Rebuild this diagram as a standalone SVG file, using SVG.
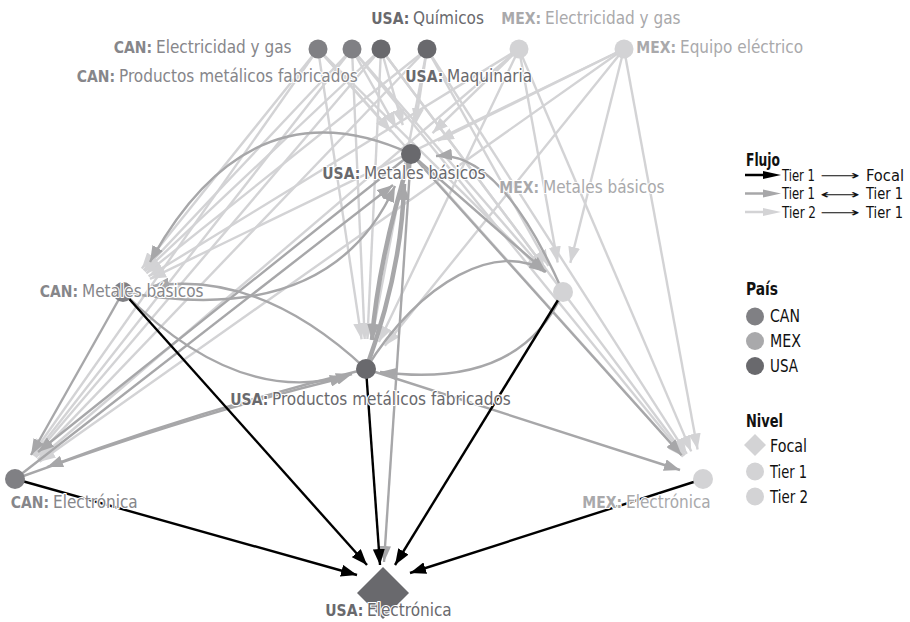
<svg xmlns="http://www.w3.org/2000/svg" width="910" height="622" viewBox="0 0 910 622">
<style>
text{font-family:"DejaVu Sans Condensed","DejaVu Sans","Liberation Sans",sans-serif;font-stretch:condensed;}
.lbl{font-size:17px;stroke:#fff;stroke-width:2.2px;paint-order:stroke;stroke-linejoin:round;}
.pre{font-size:15.5px;font-weight:bold;stroke:#fff;stroke-width:2.2px;paint-order:stroke;stroke-linejoin:round;}
.can{fill:#808084;} .usa{fill:#69696d;} .mex{fill:#a9a9ab;} .lt{fill:#d3d3d5;}
.lc{fill:#86868a;} .lu{fill:#69696d;} .lm{fill:#a9a9ab;}
.e2{fill:none;stroke:#d3d3d5;stroke-width:2.4;marker-end:url(#al);}
.e1{fill:none;stroke:#a7a7a9;stroke-width:2.4;marker-end:url(#am);}
.e1t{fill:none;stroke:#a7a7a9;stroke-width:4.5;marker-end:url(#am);}
.ef{fill:none;stroke:#000;stroke-width:2.4;marker-end:url(#ab);}
.leg{font-size:17px;fill:#111;}
.legr{font-size:15.5px;fill:#111;}
.legh{font-size:17px;fill:#111;font-weight:bold;}
.arr{font-family:"DejaVu Sans",sans-serif;font-stretch:normal;font-size:13px;fill:#111;}
</style>
<defs>
<marker id="ab" markerUnits="userSpaceOnUse" markerWidth="17" markerHeight="12" refX="16" refY="6" orient="auto"><path d="M0,0 L16,6 L0,12 z" fill="#000"/></marker>
<marker id="am" markerUnits="userSpaceOnUse" markerWidth="17" markerHeight="12" refX="16" refY="6" orient="auto"><path d="M0,0 L16,6 L0,12 z" fill="#a7a7a9"/></marker>
<marker id="al" markerUnits="userSpaceOnUse" markerWidth="17" markerHeight="12" refX="16" refY="6" orient="auto"><path d="M0,0 L16,6 L0,12 z" fill="#d3d3d5"/></marker>
</defs>
<rect width="910" height="622" fill="#fff"/>
<g id="connectors">
<path class="e2" d="M318,49 L141.8,268.6"/>
<path class="e2" d="M352,49 L143.6,270.2"/>
<path class="e2" d="M381,49 L144.8,271.4"/>
<path class="e2" d="M427,49 L146.4,273.3"/>
<path class="e2" d="M519,49 L148.6,276.3"/>
<path class="e2" d="M624,49 L150,278.9"/>
<path class="e2" d="M318,49 L32.3,454.5"/>
<path class="e2" d="M352,49 L33.5,455.4"/>
<path class="e2" d="M381,49 L34.4,456.2"/>
<path class="e2" d="M427,49 L35.8,457.3"/>
<path class="e2" d="M519,49 L37.8,459.5"/>
<path class="e2" d="M624,49 L39.5,461.7"/>
<path class="e2" d="M318,49 L391.1,131.6"/>
<path class="e2" d="M352,49 L396.3,127.8"/>
<path class="e2" d="M381,49 L402.8,125.1"/>
<path class="e2" d="M427,49 L415.5,124.3"/>
<path class="e2" d="M519,49 L432.5,133.1"/>
<path class="e2" d="M624,49 L437.9,140.7"/>
<path class="e2" d="M318,49 L361.6,339.3"/>
<path class="e2" d="M352,49 L364.7,339"/>
<path class="e2" d="M381,49 L367.4,339"/>
<path class="e2" d="M427,49 L371.6,339.5"/>
<path class="e2" d="M519,49 L378.9,341.9"/>
<path class="e2" d="M624,49 L384.8,345.7"/>
<path class="e2" d="M318,49 L541.7,270.9"/>
<path class="e2" d="M352,49 L543.3,269.3"/>
<path class="e2" d="M381,49 L545,268"/>
<path class="e2" d="M427,49 L548.4,265.8"/>
<path class="e2" d="M519,49 L557.7,262.5"/>
<path class="e2" d="M624,49 L570.3,262.9"/>
<path class="e2" d="M318,49 L683,456.6"/>
<path class="e2" d="M352,49 L684,455.8"/>
<path class="e2" d="M381,49 L685,455"/>
<path class="e2" d="M427,49 L686.8,453.8"/>
<path class="e2" d="M519,49 L691.2,451.4"/>
<path class="e2" d="M624,49 L697.6,449.5"/>
<path class="e1" d="M411,154 L681.6,455.2"/>
<path class="e1" d="M366,369 L680,470"/>
<path class="e1" d="M366,369 Q200,410 47,467"/>
<path class="e1" d="M15,479 Q190,415 346,377"/>
<path class="e1" d="M123,292 L31,455"/>
<path class="e1" d="M411,154 L38,452"/>
<path class="e1" d="M15,479 L393,185"/>
<path class="e1t" d="M411,154 Q378,260 372,340"/>
<path class="e1t" d="M366,369 Q402,270 404,184"/>
<path class="e1" d="M411,154 Q250,80 150,262"/>
<path class="e1" d="M123,292 Q330,330 395,186"/>
<path class="e1" d="M563,292 Q500,150 436,156"/>
<path class="e1" d="M411,154 L546,272"/>
<path class="e1" d="M366,369 C420,280 500,240 545,272"/>
<path class="e1" d="M563,292 Q520,390 380,372"/>
<path class="e1" d="M123,292 Q240,410 352,374"/>
<path class="e1" d="M366,369 Q260,270 153,286"/>
<path class="e1" d="M411,154 L384,562"/>
<path class="ef" d="M15,479 L357,575"/>
<path class="ef" d="M123,292 L367,565"/>
<path class="ef" d="M366,369 L380,565"/>
<path class="ef" d="M563,292 L395,565"/>
<path class="ef" d="M703,479 L410,573"/>
</g>
<g id="n-can-elec"><circle class="can" cx="318" cy="49" r="9.5"/><text class="pre lc" x="113.7" y="53">CAN:</text><text class="lbl lc" x="156" y="53">Electricidad y gas</text></g>
<g id="n-can-prod"><circle class="can" cx="352" cy="49" r="9.5"/><text class="pre lc" x="76.7" y="82">CAN:</text><text class="lbl lc" x="119" y="82">Productos metálicos fabricados</text></g>
<g id="n-usa-quim"><circle class="usa" cx="381" cy="49" r="9.5"/><text class="pre lu" x="371.3" y="24">USA:</text><text class="lbl lu" x="413" y="24">Químicos</text></g>
<g id="n-usa-maq"><circle class="usa" cx="427" cy="49" r="9.5"/><text class="pre lu" x="405.3" y="82">USA:</text><text class="lbl lu" x="447" y="82">Maquinaria</text></g>
<g id="n-mex-elec"><circle class="lt" cx="519" cy="49" r="9.5"/><text class="pre lm" x="501.3" y="24">MEX:</text><text class="lbl lm" x="545" y="24">Electricidad y gas</text></g>
<g id="n-mex-equipo"><circle class="lt" cx="624" cy="49" r="9.5"/><text class="pre lm" x="636.3" y="53">MEX:</text><text class="lbl lm" x="680" y="53">Equipo eléctrico</text></g>
<g id="n-usa-metales"><circle class="usa" cx="411" cy="154" r="10"/><text class="pre lu" x="322.3" y="179">USA:</text><text class="lbl lu" x="364" y="179">Metales básicos</text></g>
<g id="n-mex-metales"><circle class="lt" cx="563" cy="292" r="10"/><text class="pre lm" x="499.3" y="193">MEX:</text><text class="lbl lm" x="543" y="193">Metales básicos</text></g>
<g id="n-can-metales"><circle class="can" cx="123" cy="292" r="10"/><text class="pre lc" x="39.7" y="297">CAN:</text><text class="lbl lc" x="82" y="297">Metales básicos</text></g>
<g id="n-usa-prod"><circle class="usa" cx="366" cy="369" r="10"/><text class="pre lu" x="230.3" y="405">USA:</text><text class="lbl lu" x="272" y="405">Productos metálicos fabricados</text></g>
<g id="n-can-electronica"><circle class="can" cx="15" cy="479" r="10"/><text class="pre lc" x="10.7" y="508">CAN:</text><text class="lbl lc" x="53" y="508">Electrónica</text></g>
<g id="n-mex-electronica"><circle class="lt" cx="703" cy="479" r="10"/><text class="pre lm" x="582.3" y="508">MEX:</text><text class="lbl lm" x="626" y="508">Electrónica</text></g>
<g id="n-usa-electronica"><path class="usa" d="M383,567 L409,593 L383,619 L357,593 z"/><text class="pre lu" x="325.3" y="616">USA:</text><text class="lbl lu" x="367" y="616">Electrónica</text></g>
<g id="legend">
<text class="legh" x="746" y="166" textLength="34" lengthAdjust="spacingAndGlyphs">Flujo</text>
<line x1="745" y1="175" x2="766" y2="175" stroke="#000" stroke-width="2.5"/><path d="M763,171 L781,175 L763,179 z" fill="#000"/>
<text class="legr" x="782" y="180.5" textLength="33" lengthAdjust="spacingAndGlyphs">Tier 1</text>
<text class="arr" x="820" y="180" textLength="40" lengthAdjust="spacingAndGlyphs">⟶</text>
<text class="legr" x="866" y="180.5" textLength="38" lengthAdjust="spacingAndGlyphs">Focal</text>
<line x1="745" y1="193.5" x2="766" y2="193.5" stroke="#a7a7a9" stroke-width="2.5"/><path d="M763,189.5 L781,193.5 L763,197.5 z" fill="#a7a7a9"/>
<text class="legr" x="782" y="199" textLength="33" lengthAdjust="spacingAndGlyphs">Tier 1</text>
<text class="arr" x="820" y="198.5" textLength="40" lengthAdjust="spacingAndGlyphs">⟷</text>
<text class="legr" x="866" y="199" textLength="37" lengthAdjust="spacingAndGlyphs">Tier 1</text>
<line x1="745" y1="212" x2="766" y2="212" stroke="#d3d3d5" stroke-width="2.5"/><path d="M763,208 L781,212 L763,216 z" fill="#d3d3d5"/>
<text class="legr" x="782" y="217.5" textLength="34" lengthAdjust="spacingAndGlyphs">Tier 2</text>
<text class="arr" x="820" y="217" textLength="40" lengthAdjust="spacingAndGlyphs">⟶</text>
<text class="legr" x="866" y="217.5" textLength="37" lengthAdjust="spacingAndGlyphs">Tier 1</text>
<text class="legh" x="746" y="295" textLength="32" lengthAdjust="spacingAndGlyphs">País</text>
<circle class="can" cx="755" cy="316.5" r="9"/><text class="leg" x="770" y="322" textLength="30" lengthAdjust="spacingAndGlyphs">CAN</text>
<circle class="mex" cx="755" cy="341" r="9"/><text class="leg" x="770" y="346.5" textLength="31" lengthAdjust="spacingAndGlyphs">MEX</text>
<circle class="usa" cx="755" cy="366" r="9"/><text class="leg" x="770" y="371.5" textLength="28" lengthAdjust="spacingAndGlyphs">USA</text>
<text class="legh" x="746" y="427" textLength="37" lengthAdjust="spacingAndGlyphs">Nivel</text>
<path d="M755,434 L766,445 L755,456 L744,445 z" fill="#d3d3d5"/><text class="leg" x="770" y="452" textLength="37" lengthAdjust="spacingAndGlyphs">Focal</text>
<circle class="lt" cx="755" cy="471.5" r="9"/><text class="leg" x="770" y="477.5" textLength="37" lengthAdjust="spacingAndGlyphs">Tier 1</text>
<circle class="lt" cx="755" cy="496.5" r="9"/><text class="leg" x="770" y="502.5" textLength="38" lengthAdjust="spacingAndGlyphs">Tier 2</text>
</g>
</svg>
